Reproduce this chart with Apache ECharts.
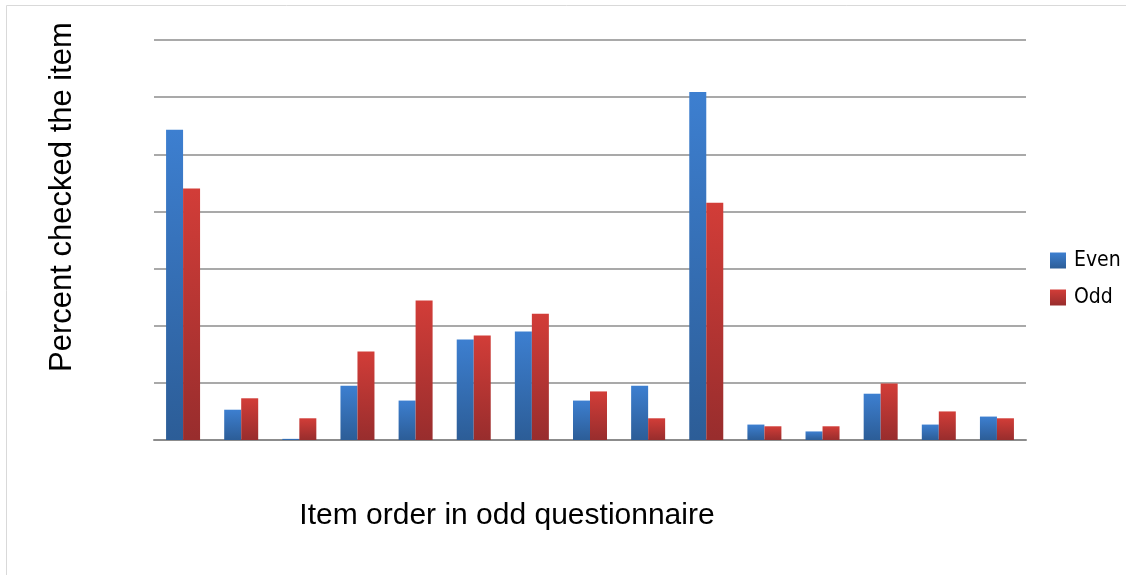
<!DOCTYPE html>
<html>
<head>
<meta charset="utf-8">
<script src="https://cdn.jsdelivr.net/npm/echarts@6/dist/echarts.min.js"></script>
<style>
html, body { margin: 0; padding: 0; background: #fff; }
#chart { width: 1126px; height: 575px; }
</style>
</head>
<body>
<div id="chart"></div>
<script>
// item order (labels not shown in the original)
var categories = ['1','2','3','4','5','6','7','8','9','10','11','12','13','14','15'];
var evenValues = [5.43, 0.53, 0.02, 0.95, 0.69, 1.76, 1.90, 0.69, 0.95, 6.09, 0.27, 0.15, 0.81, 0.27, 0.41];
var oddValues  = [4.40, 0.73, 0.38, 1.55, 2.44, 1.83, 2.21, 0.85, 0.38, 4.15, 0.24, 0.24, 0.99, 0.50, 0.38];

window.onload = function () {
  var chart = echarts.init(document.getElementById('chart'));

  function grad(top, bottom) {
    return new echarts.graphic.LinearGradient(0, 0, 0, 1, [
      { offset: 0, color: top },
      { offset: 1, color: bottom }
    ]);
  }

  chart.setOption({
    animation: false,
    grid: { left: 154, right: 100, top: 40, bottom: 135 },
    legend: {
      orient: 'vertical',
      left: 1045,
      top: 245,
      itemWidth: 16,
      itemHeight: 16,
      itemGap: 16,
      icon: 'rect',
      textStyle: { fontFamily: 'DejaVu Sans Condensed', fontSize: 21, color: '#000', padding: [0, 0, 0, 3] },
      data: ['Even', 'Odd']
    },
    xAxis: {
      type: 'category',
      data: categories,
      axisTick: { show: false },
      axisLabel: { show: false },
      axisLine: { lineStyle: { color: '#8c8c8c', width: 2 } }
    },
    yAxis: {
      type: 'value',
      min: 0,
      max: 7,
      interval: 1,
      axisLabel: { show: false },
      axisLine: { show: false },
      axisTick: { show: false },
      splitLine: { lineStyle: { color: '#8c8c8c', width: 1.5 } }
    },
    graphic: [
      {
        type: 'rect',
        shape: { x: 6.5, y: 5.5, width: 1130, height: 580 },
        style: { fill: 'none', stroke: '#d9d9d9', lineWidth: 1 },
        silent: true
      },
      {
        type: 'text',
        x: 507,
        y: 516,
        style: {
          text: 'Item order in odd questionnaire',
          fontFamily: 'Liberation Sans',
          fontSize: 30,
          fill: '#000',
          align: 'center',
          verticalAlign: 'middle'
        }
      },
      {
        type: 'text',
        x: 62,
        y: 197,
        rotation: Math.PI / 2,
        style: {
          text: 'Percent checked the item',
          fontFamily: 'Liberation Sans',
          fontSize: 31,
          fill: '#000',
          align: 'center',
          verticalAlign: 'middle'
        }
      }
    ],
    series: [
      {
        name: 'Even',
        type: 'bar',
        barWidth: 17,
        barGap: '0%',
        itemStyle: { color: grad('#3d7fd0', '#2c5d97') },
        data: evenValues
      },
      {
        name: 'Odd',
        type: 'bar',
        barWidth: 17,
        barGap: '0%',
        itemStyle: { color: grad('#d23d38', '#982d2d') },
        data: oddValues
      }
    ]
  });
};
</script>
</body>
</html>
